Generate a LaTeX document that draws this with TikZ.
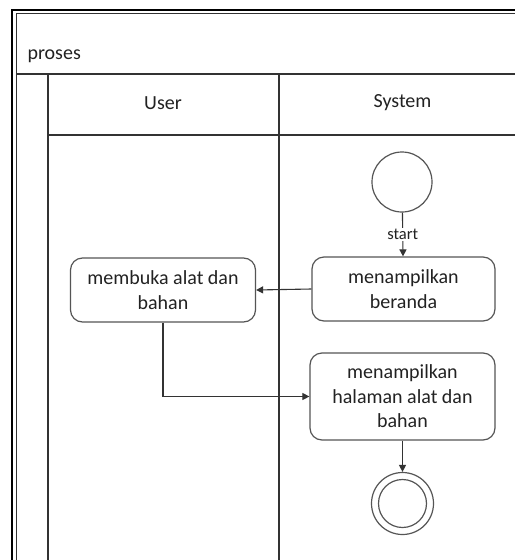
\documentclass[tikz,border=0pt]{standalone}
\usepackage{fontspec}
\setmainfont{Carlito}
\usetikzlibrary{arrows.meta}
\definecolor{linegray}{HTML}{333333}
\definecolor{boxgray}{HTML}{555555}
\definecolor{textgray}{HTML}{222222}

\begin{document}
\begin{tikzpicture}[x=1pt,y=-1pt,
  lane/.style={draw=linegray, line width=1.1pt},
  action/.style={draw=boxgray, line width=1.2pt, rounded corners=12pt,
    minimum width=184pt, align=center, inner sep=0pt, text=textgray,
    font=\fontsize{20}{24.5}\selectfont},
  startnode/.style={draw=boxgray, line width=1.2pt, circle, minimum size=60pt, inner sep=0pt},
  endnode/.style={draw=boxgray, line width=1.2pt, circle, minimum size=62pt, inner sep=0pt},
  endcore/.style={draw=boxgray, line width=1.2pt, circle, minimum size=48pt, inner sep=0pt},
  flow/.style={draw=linegray, line width=1.1pt, -{Triangle[length=7pt,width=7pt]}},
  lanelabel/.style={text=textgray, font=\fontsize{20}{24}\selectfont},
  flowlabel/.style={text=textgray, fill=white, inner sep=1pt, font=\fontsize{16.5}{19}\selectfont}]

\useasboundingbox (0,0) rectangle (515,560);
\fill[white] (0,0) rectangle (515,560);

% pool frame (double border)
\draw[black, line width=2.6pt] (12,560) -- (12,10) -- (515,10);
\draw[linegray, line width=1.1pt] (16.5,560) -- (16.5,13.5) -- (515,13.5);

% pool header and lanes
\draw[lane] (16.5,74) -- (515,74);
\draw[lane] (48,74) -- (48,560);
\draw[lane] (48,135) -- (515,135);
\draw[lane] (279,74) -- (279,560);

\node[lanelabel, anchor=west] (pool) at (24,56) {proses};
\node[lanelabel] (userlane) at (163,103) {User};
\node[lanelabel] (systemlane) at (402.5,103) {System};

% activities
\node[startnode] (init) at (402,182) {};
\node[action, minimum width=183pt, minimum height=64pt] (beranda) at (403.5,289) {menampilkan\\beranda};
\node[action, minimum width=185pt, minimum height=64pt] (membuka) at (163,290) {membuka alat dan\\bahan};
\node[action, minimum width=185pt, minimum height=87pt] (halaman) at (402.5,396.5) {menampilkan\\halaman alat dan\\bahan};
\node[endnode] (final) at (402.5,503.5) {};
\node[endcore] (finalcore) at (final.center) {};

% control flow
\draw[flow] (init) -- node[flowlabel] {start} (beranda);
\draw[flow] (beranda.west) -- (membuka.east);
\draw[flow] (membuka.south) |- (halaman.west);
\draw[flow] (halaman.south) -- (final.north);
\end{tikzpicture}
\end{document}
